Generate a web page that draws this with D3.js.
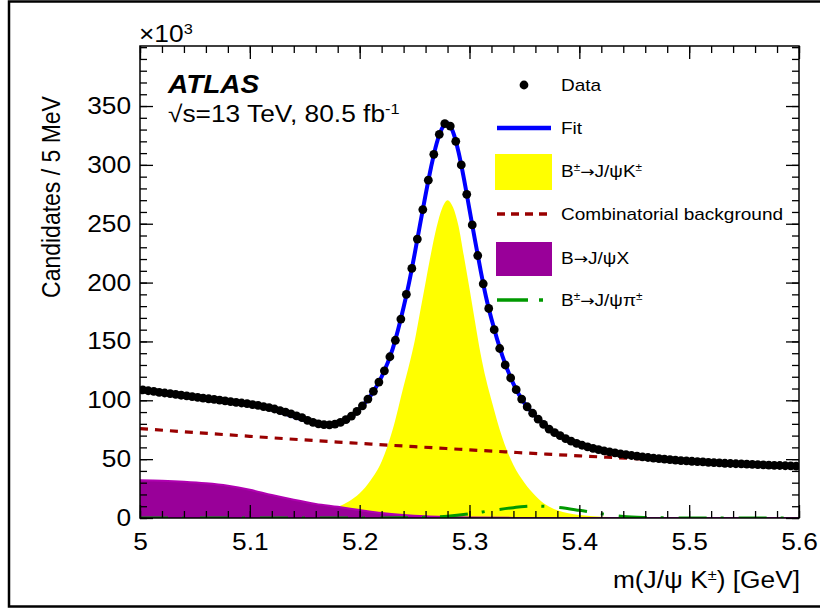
<!DOCTYPE html>
<html>
<head>
<meta charset="utf-8">
<script src="https://cdn.jsdelivr.net/npm/d3@7"></script>
<style>
  body { margin: 0; background: #fff; }
  svg { display: block; font-family: "Liberation Sans", Arial, Helvetica, sans-serif; }
</style>
</head>
<body>
<div id="chart"></div>
<script>
// values, y in units of 10^3 candidates / 5 MeV, x in GeV
var binLow = 5.0, binWidth = 0.005;
var dataCounts = [
  108.8,108.1,107.5,106.8,106.2,105.6,105.0,104.3,103.7,103.1,
  102.5,101.9,101.3,100.7,100.1,99.5,98.9,98.3,97.7,97.1,
  96.4,95.6,94.7,93.7,92.6,91.3,89.9,88.4,86.8,85.2,
  83.0,81.3,80.0,79.3,79.2,79.8,81.2,83.5,86.6,90.5,
  95.3,101.0,107.6,115.5,125.0,137.0,151.0,169.0,190.0,212.0,
  237.0,262.0,287.0,309.0,326.0,335.0,333.0,320.0,300.0,275.0,
  249.0,223.0,199.0,178.0,160.0,144.0,130.0,119.0,109.0,101.0,
  94.5,89.0,84.0,79.5,75.5,72.5,70.0,67.5,65.3,63.4,
  61.8,60.4,59.2,58.1,57.1,56.2,55.3,54.5,53.8,53.1,
  52.5,51.9,51.4,50.9,50.4,50.0,49.6,49.2,48.8,48.5,
  48.2,47.9,47.6,47.3,47.0,46.8,46.5,46.3,46.1,45.9,
  45.7,45.5,45.3,45.1,44.9,44.7,44.6,44.4,44.3,44.1
];

var fitMass = [5.00,5.02,5.04,5.06,5.08,5.10,5.12,5.14,5.15,5.16,5.17,5.18,5.19,5.20,5.21,5.22,5.23,5.24,5.245,5.25,
  5.255,5.26,5.265,5.27,5.275,5.28,5.285,5.29,5.295,5.30,5.305,5.31,5.315,5.32,5.33,5.34,5.35,5.36,5.37,5.38,
  5.39,5.40,5.42,5.44,5.46,5.50,5.55,5.60];
var fitValues = [109.1,106.6,104.1,101.7,99.3,96.8,92.4,86.1,83.1,80.6,79.3,80.2,84.8,92.8,104.0,120.0,143.5,179.0,200.0,224.0,
  249.5,274.5,298.0,318.0,331.0,335.5,328.0,311.0,288.0,262.0,236.0,211.0,188.0,169.0,137.5,114.0,97.5,86.5,77.5,71.2,
  66.2,62.5,57.5,54.2,51.9,48.4,45.9,44.0];

var sigMass = [5.00,5.10,5.14,5.16,5.18,5.19,5.20,5.21,5.22,5.23,5.24,5.245,5.25,5.255,5.26,5.265,5.27,5.275,5.28,5.285,
  5.29,5.295,5.30,5.305,5.31,5.315,5.32,5.33,5.34,5.35,5.36,5.37,5.38,5.39,5.40,5.42,5.45,5.50,5.60];
var sigValues = [0,1,3,5,9.5,14,21,32,48,75,112,130,150,175,200,225,247,263,270,264,
  248,222,195,167,140,118,100,68,45,30,19,11,6.5,4,2.5,1,0.3,0,0];

var combMass = [5.00,5.05,5.10,5.15,5.20,5.25,5.30,5.35,5.40,5.45,5.50,5.55,5.60];
var combValues = [76.0,72.6,69.4,66.3,63.4,60.6,57.9,55.3,52.8,50.5,48.2,46.1,44.0];

var bxMass = [5.00,5.02,5.04,5.06,5.08,5.10,5.12,5.14,5.16,5.18,5.20,5.22,5.24,5.26,5.28,5.30,5.34,5.40,5.60];
var bxValues = [32.0,31.6,30.8,29.5,27.4,24.0,19.5,15.5,12.0,9.5,6.8,4.2,2.5,1.4,0.8,0.4,0.1,0,0];

var piMass = [5.00,5.20,5.24,5.26,5.28,5.30,5.32,5.34,5.35,5.36,5.38,5.40,5.42,5.44,5.46,5.48,5.60];
var piValues = [0,0,0.2,0.6,1.5,3.5,6.3,8.8,9.8,10.1,9.0,6.5,3.6,1.3,0.4,0.1,0];

var xTicks = [5.0,5.1,5.2,5.3,5.4,5.5,5.6];
var xTickLabels = ["5","5.1","5.2","5.3","5.4","5.5","5.6"];
var yTicks = [0,50,100,150,200,250,300,350];
var yTickLabels = ["0","50","100","150","200","250","300","350"];

var legendLabels = [
  [["Data"]],
  [["Fit"]],
  [["B"],["±","sup"],["→","arrow"],["J/ψK"],["±","sup"]],
  [["Combinatorial background"]],
  [["B"],["→","arrow"],["J/ψX"]],
  [["B"],["±","sup"],["→","arrow"],["J/ψπ"],["±","sup"]]
];

////////////////////////////////////////////////////
var W = 820, H = 612;
var pL = 140, pR = 799, pT = 46, pB = 518;
var SX = 1.12; // text in the picture is a bit wider than the font

var svg = d3.select("#chart").append("svg")
  .attr("width", W).attr("height", H);

svg.append("rect").attr("width", W).attr("height", H).attr("fill", "#fff");
// outer frame of the screenshot
svg.append("rect")
  .attr("x", 9).attr("y", 1.5).attr("width", 830).attr("height", 605)
  .attr("fill", "none").attr("stroke", "#000").attr("stroke-width", 2.5);

var x = d3.scaleLinear().domain([5.0, 5.6]).range([pL, pR]);
var y = d3.scaleLinear().domain([0, 401]).range([pB, pT]);

svg.append("clipPath").attr("id", "clip")
  .append("rect").attr("x", pL).attr("y", pT)
  .attr("width", pR - pL).attr("height", pB - pT);

var plot = svg.append("g").attr("clip-path", "url(#clip)");

function pts(ms, vs) { return ms.map(function(m, i) { return [m, vs[i]]; }); }

var area = d3.area().x(function(d){return x(d[0]);}).y0(y(0)).y1(function(d){return y(d[1]);})
  .curve(d3.curveMonotoneX);
var line = d3.line().x(function(d){return x(d[0]);}).y(function(d){return y(d[1]);})
  .curve(d3.curveMonotoneX);

// signal
plot.append("path").datum(pts(sigMass, sigValues))
  .attr("d", area).attr("fill", "#ffff00");
// B -> J/psi X
plot.append("path").datum(pts(bxMass, bxValues))
  .attr("d", area).attr("fill", "#990099");
plot.append("path").datum(pts(bxMass, bxValues))
  .attr("d", line).attr("fill", "none").attr("stroke", "#b000b0").attr("stroke-width", 2);
// B -> J/psi pi
plot.append("path").datum(pts(piMass, piValues))
  .attr("d", line).attr("fill", "none").attr("stroke", "#009900")
  .attr("stroke-width", 3).attr("stroke-dasharray", "28,14,3,15");
// combinatorial
plot.append("path").datum(pts(combMass, combValues))
  .attr("d", line).attr("fill", "none").attr("stroke", "#990000")
  .attr("stroke-width", 3.2).attr("stroke-dasharray", "8,7");
// fit
plot.append("path").datum(pts(fitMass, fitValues))
  .attr("d", line).attr("fill", "none").attr("stroke", "#0000ff").attr("stroke-width", 4);
// data
plot.selectAll("circle.data")
  .data(dataCounts)
  .enter().append("circle")
  .attr("class", "data")
  .attr("cx", function(d, i){ return x(binLow + binWidth * (i + 0.5)); })
  .attr("cy", function(d){ return y(d); })
  .attr("r", 4.4)
  .attr("fill", "#000");

// ---------- axes, ticks inward on all four sides ----------
var major = 13, minor = 7;
var xMinor = d3.range(5.0, 5.6001, 0.02);
var yMinor = d3.range(0, 400.1, 10);

function styleAxis(g) {
  g.select(".domain").remove();
  g.selectAll("line").attr("stroke", "#000").attr("stroke-width", 1.3);
}

svg.append("g").attr("transform", "translate(0," + pB + ")")
  .call(d3.axisBottom(x).tickValues(xMinor).tickSize(-minor).tickFormat(""))
  .call(styleAxis);
svg.append("g").attr("transform", "translate(0," + pT + ")")
  .call(d3.axisTop(x).tickValues(xMinor).tickSize(-minor).tickFormat(""))
  .call(styleAxis);
svg.append("g").attr("transform", "translate(" + pL + ",0)")
  .call(d3.axisLeft(y).tickValues(yMinor).tickSize(-minor).tickFormat(""))
  .call(styleAxis);
svg.append("g").attr("transform", "translate(" + pR + ",0)")
  .call(d3.axisRight(y).tickValues(yMinor).tickSize(-minor).tickFormat(""))
  .call(styleAxis);
svg.append("g").attr("transform", "translate(0," + pT + ")")
  .call(d3.axisTop(x).tickValues(xTicks).tickSize(-major).tickFormat(""))
  .call(styleAxis);
svg.append("g").attr("transform", "translate(" + pR + ",0)")
  .call(d3.axisRight(y).tickValues(yTicks).tickSize(-major).tickFormat(""))
  .call(styleAxis);

var xAxis = svg.append("g").attr("transform", "translate(0," + pB + ")")
  .call(d3.axisBottom(x).tickValues(xTicks).tickSize(-major).tickPadding(15)
    .tickFormat(function(d, i){ return xTickLabels[i]; }))
  .call(styleAxis);
var yAxis = svg.append("g").attr("transform", "translate(" + pL + ",0)")
  .call(d3.axisLeft(y).tickValues(yTicks).tickSize(-major).tickPadding(8)
    .tickFormat(function(d, i){ return yTickLabels[i]; }))
  .call(styleAxis);

[xAxis, yAxis].forEach(function(a) {
  a.selectAll("text")
    .attr("font-size", 23.5)
    .attr("font-family", "Liberation Sans, Arial, sans-serif")
    .attr("fill", "#000")
    .attr("transform", "scale(" + SX + ",1)");
});

svg.append("rect")
  .attr("x", pL).attr("y", pT).attr("width", pR - pL).attr("height", pB - pT)
  .attr("fill", "none").attr("stroke", "#000").attr("stroke-width", 1.5);

// ---------- texts ----------
function addText(px, py, size, parts, anchor, extra) {
  var t = svg.append("text")
    .attr("transform", "translate(" + px + "," + py + ") scale(" + SX + ",1)" + (extra || ""))
    .attr("font-size", size)
    .attr("text-anchor", anchor || "start")
    .attr("fill", "#000");
  parts.forEach(function(p) {
    var s = t.append("tspan").text(p[0]);
    if (p[1] === "sup") s.attr("baseline-shift", "super").attr("font-size", size * 0.62);
    if (p[1] === "arrow") s.attr("font-family", "DejaVu Sans").attr("font-size", size * 0.9);
  });
  return t;
}

addText(139, 42, 23.5, [["×10"], ["3", "sup"]]);
addText(60, 197, 23, [["Candidates / 5 MeV"]], "middle", " rotate(-90)");
addText(800, 588, 23.5, [["m(J/ψ K"], ["±", "sup"], [") [GeV]"]], "end");

addText(168, 93, 25, [["ATLAS"]]).attr("font-weight", "bold").attr("font-style", "italic");
addText(168, 122, 23.5, [["√s=13 TeV, 80.5 fb"], ["-1", "sup"]]);

// ---------- legend ----------
var legY = [85, 128, 171, 214, 258, 300];
var lg = svg.append("g");
legendLabels.forEach(function(parts, i) {
  addText(561, legY[i] + 6, 17, parts);
});
lg.append("circle").attr("cx", 524).attr("cy", legY[0]).attr("r", 4.4).attr("fill", "#000");
lg.append("line").attr("x1", 497).attr("x2", 551).attr("y1", legY[1]).attr("y2", legY[1])
  .attr("stroke", "#0000ff").attr("stroke-width", 4.5);
lg.append("rect").attr("x", 495).attr("y", legY[2] - 17).attr("width", 57).attr("height", 36)
  .attr("fill", "#ffff00");
lg.append("line").attr("x1", 497).attr("x2", 551).attr("y1", legY[3]).attr("y2", legY[3])
  .attr("stroke", "#990000").attr("stroke-width", 3.5).attr("stroke-dasharray", "8,6");
lg.append("rect").attr("x", 496).attr("y", legY[4] - 16).attr("width", 56).attr("height", 34)
  .attr("fill", "#990099");
lg.append("line").attr("x1", 497).attr("x2", 545).attr("y1", legY[5]).attr("y2", legY[5])
  .attr("stroke", "#009900").attr("stroke-width", 3.5).attr("stroke-dasharray", "31,11,4,20");
</script>
</body>
</html>
